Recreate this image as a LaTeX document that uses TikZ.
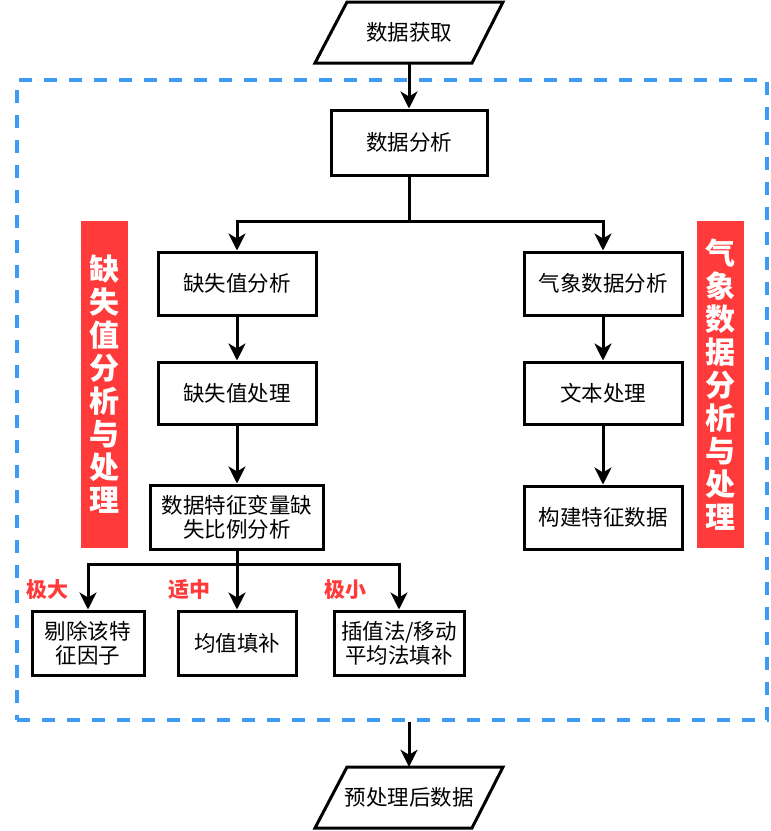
\documentclass[tikz,border=0pt]{standalone}
\usepackage{fontspec}
\setmainfont{Noto Sans CJK SC}
\usetikzlibrary{arrows.meta,calc}
\definecolor{lblred}{HTML}{FF3A3A}
\definecolor{dashblue}{HTML}{3D9BF5}
\begin{document}
\begin{tikzpicture}[x=1pt,y=-1pt,
  boxnode/.style={draw=black,line width=3pt,minimum width=#1,align=center,inner sep=2pt,font=\fontsize{21.5}{24}\selectfont},
  boxnode/.default=158pt,
  arr/.style={line width=3pt,-{Stealth[length=17pt,width=17pt,inset=5pt]}},
  ln/.style={line width=3pt},
  redlabel/.style={fill=lblred,text=white,minimum width=47pt,minimum height=327pt,align=center,inner sep=0pt,font=\fontsize{30}{33}\selectfont\bfseries},
  condlabel/.style={text=lblred,font=\fontsize{21}{22}\selectfont\bfseries,inner sep=0pt}
]
\useasboundingbox (0,0) rectangle (771,831);
% frame
\node[draw=dashblue,line width=3.2pt,dash pattern=on 13pt off 12pt,minimum width=750pt,minimum height=640pt,inner sep=0pt] (frame) at (392,400) {};
% top parallelogram
\node[minimum width=125pt,minimum height=61pt,inner sep=0pt,font=\fontsize{21.5}{24}\selectfont] (get) at (409,32.5) {数据获取};
\draw[ln,line join=miter] ($(get.center)+(-62,-30.5)$) -- ($(get.center)+(94,-30.5)$) -- ($(get.center)+(63,30.5)$) -- ($(get.center)+(-94,30.5)$) -- cycle;
% analysis
\node[boxnode=156pt,minimum height=65pt] (ana) at (409,142.5) {数据分析};
\draw[arr] (get.south) -- (ana.north);
% left column
\node[boxnode,minimum height=63pt] (miss1) at (237,283.5) {缺失值分析};
\node[boxnode,minimum height=62pt] (miss2) at (237,393) {缺失值处理};
\node[boxnode=173pt,minimum height=64pt] (miss3) at (237,517) {数据特征变量缺\\失比例分析};
% right column
\node[boxnode,minimum height=63pt] (met1) at (603,283.5) {气象数据分析};
\node[boxnode,minimum height=62pt] (met2) at (603,393) {文本处理};
\node[boxnode,minimum height=63pt] (met3) at (603,517.5) {构建特征数据};
% red labels
\node[redlabel] (redL) at (104,384.5) {缺\\失\\值\\分\\析\\与\\处\\理};
\node[redlabel] (redR) at (720,384.5) {气\\象\\数\\据\\分\\析\\与\\处\\理};
% branch 1
\coordinate (b1) at (409,221);
\draw[ln] (ana.south) -- (b1);
\draw[arr] (b1) -| (miss1.north);
\draw[arr] (b1) -| (met1.north);
\draw[arr] (miss1.south) -- (miss2.north);
\draw[arr] (miss2.south) -- (miss3.north);
\draw[arr] (met1.south) -- (met2.north);
\draw[arr] (met2.south) -- (met3.north);
% bottom row
\node[boxnode=112pt,minimum height=64pt] (del) at (88,643) {剔除该特\\征因子};
\node[boxnode=118pt,minimum height=64pt] (mean) at (237,643) {均值填补};
\node[boxnode=130pt,minimum height=64pt] (interp) at (399,643) {插值法/移动\\平均法填补};
\coordinate (b2) at (237,564);
\draw[arr] (miss3.south) -- (mean.north);
\draw[arr] (b2) -| (del.north);
\draw[arr] (b2) -| (interp.north);
\node[condlabel] (c1) at (48,590) {极大};
\node[condlabel] (c2) at (189,590) {适中};
\node[condlabel] (c3) at (345,590) {极小};
% output
\node[minimum width=125pt,minimum height=61pt,inner sep=0pt,font=\fontsize{21.5}{24}\selectfont] (out) at (409,797.5) {预处理后数据};
\draw[ln,line join=miter] ($(out.center)+(-62,-30.5)$) -- ($(out.center)+(94,-30.5)$) -- ($(out.center)+(63,30.5)$) -- ($(out.center)+(-94,30.5)$) -- cycle;
\draw[arr] (frame.south -| out.north) -- (out.north);
\end{tikzpicture}
\end{document}
